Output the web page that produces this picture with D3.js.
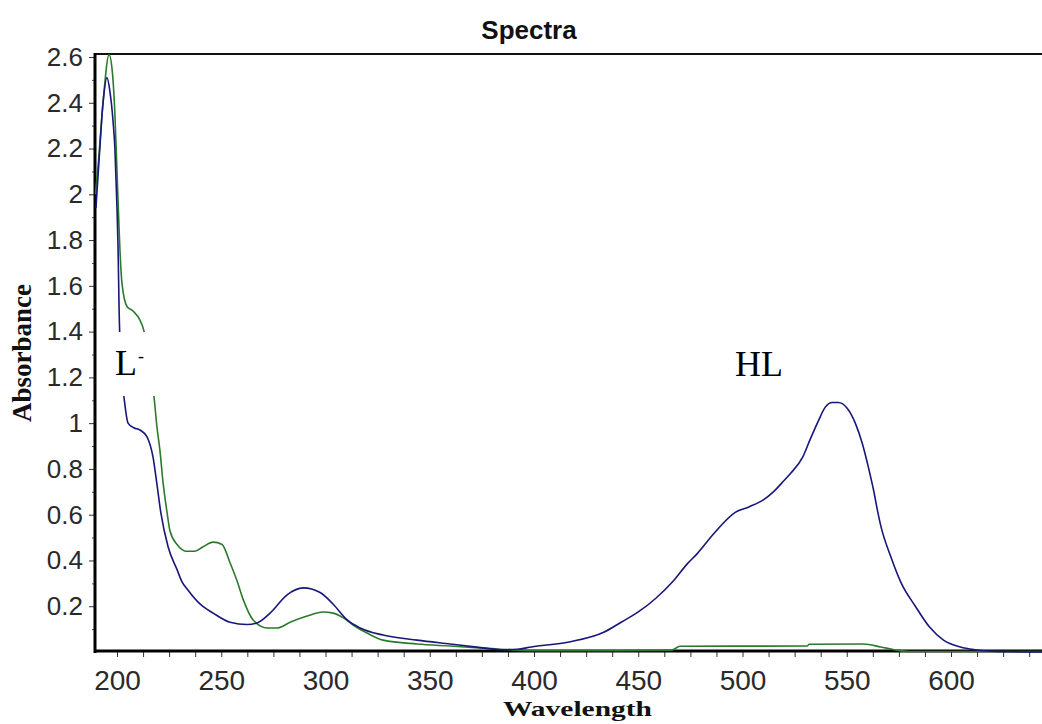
<!DOCTYPE html>
<html>
<head>
<meta charset="utf-8">
<script src="https://cdn.jsdelivr.net/npm/d3@7"></script>
<style>
  body { margin: 0; background: #fff; }
</style>
</head>
<body>
<svg id="chart" width="1042" height="724"></svg>
<script>
// blue trace (HL)
const blueWl = [189.9, 191.4, 193.3, 195.2, 196.6, 198.1, 199, 200, 200.5, 201, 201.9, 203.4, 205.3, 208, 211, 214.4, 217.3, 219.2, 221, 224.5, 228.8, 231, 234.1, 239.8, 246.1, 254.2, 262.4, 267.2, 273.4, 281.6, 289.3, 297.4, 303.6, 310.4, 316.6, 327.6, 344, 359.8, 375.6, 384, 392, 398.7, 416.9, 433.7, 441.8, 450, 458.6, 466.8, 473.5, 478.3, 486.5, 496.5, 503.3, 510, 514.8, 519, 523, 528.8, 532.5, 536.4, 539.7, 543.1, 546, 550.2, 554.1, 557.5, 560.3, 562.8, 564.7, 566.1, 571.4, 576.2, 582.9, 589.6, 596.4, 604.5, 611.3, 619.4, 644];
const blueAbs = [1.94, 2.15, 2.4, 2.51, 2.45, 2.32, 2.2, 1.94, 1.77, 1.5, 1.25, 1.11, 1.0, 0.98, 0.97, 0.94, 0.85, 0.73, 0.61, 0.46, 0.36, 0.31, 0.27, 0.21, 0.17, 0.13, 0.12, 0.127, 0.17, 0.25, 0.28, 0.26, 0.21, 0.14, 0.105, 0.074, 0.052, 0.035, 0.018, 0.01, 0.012, 0.022, 0.044, 0.087, 0.13, 0.175, 0.236, 0.31, 0.385, 0.43, 0.52, 0.61, 0.635, 0.665, 0.70, 0.74, 0.78, 0.85, 0.93, 1.01, 1.07, 1.09, 1.09, 1.065, 1.0, 0.91, 0.81, 0.71, 0.62, 0.56, 0.41, 0.30, 0.20, 0.11, 0.052, 0.022, 0.01, 0.003, 0.0];

// green trace (L-)
const greenWl = [189.6, 190.9, 193.3, 196.2, 197.6, 199, 200, 201, 201.4, 202.4, 204.8, 207.7, 211, 213, 215.4, 217.8, 219.2, 220.6, 222.1, 224, 225.4, 228.8, 233.6, 237.4, 241.3, 246.1, 250.4, 254.2, 257.6, 260.5, 265.3, 272, 276.8, 283, 291.2, 298.8, 303.6, 308.4, 313.2, 319.9, 327.6, 344, 359.8, 375.6, 400, 440, 466, 470, 531, 532, 558, 566.3, 572.8, 580, 644];
const greenAbs = [2.0, 2.12, 2.4, 2.61, 2.55, 2.35, 2.1, 1.85, 1.76, 1.61, 1.51, 1.49, 1.45, 1.40, 1.25, 1.11, 0.98, 0.88, 0.74, 0.61, 0.53, 0.47, 0.44, 0.44, 0.46, 0.48, 0.47, 0.39, 0.31, 0.23, 0.14, 0.105, 0.105, 0.13, 0.157, 0.175, 0.17, 0.15, 0.118, 0.083, 0.052, 0.035, 0.026, 0.017, 0.006, 0.006, 0.008, 0.025, 0.026, 0.034, 0.035, 0.022, 0.01, 0.002, 0.002];

const xTickValues = [200, 250, 300, 350, 400, 450, 500, 550, 600];
const yTickValues = [0.2, 0.4, 0.6, 0.8, 1, 1.2, 1.4, 1.6, 1.8, 2, 2.2, 2.4, 2.6];

const svg = d3.select("#chart");

const plotLeft = 95, plotRight = 1042, plotTop = 54, plotBottom = 652;

const x = d3.scaleLinear().domain([200, 600]).range([117, 951]);
const y = d3.scaleLinear().domain([0, 2.6]).range([652, 57]);

// clip for the plot area
svg.append("clipPath").attr("id", "plotclip")
  .append("rect")
  .attr("x", plotLeft).attr("y", plotTop)
  .attr("width", plotRight - plotLeft).attr("height", plotBottom - plotTop + 2);

// title
svg.append("text")
  .attr("x", 529)
  .attr("y", 39)
  .attr("text-anchor", "middle")
  .attr("font-family", "Liberation Sans, Arial, sans-serif")
  .attr("font-weight", "bold")
  .attr("font-size", "26px")
  .attr("fill", "#111")
  .text("Spectra");

// y axis ticks + labels
const yAxis = d3.axisLeft(y)
  .tickValues(yTickValues)
  .tickSize(6)
  .tickPadding(6)
  .tickFormat(d => String(+d.toFixed(1)));

const yg = svg.append("g")
  .attr("transform", `translate(${plotLeft},0)`)
  .call(yAxis);
yg.select(".domain").remove();
yg.selectAll("text")
  .attr("font-family", "Liberation Sans, Arial, sans-serif")
  .attr("font-size", "26px")
  .attr("fill", "#2a2a2a");
yg.selectAll("line").attr("stroke", "#333");

// small y minor ticks
const yMinor = d3.axisLeft(y)
  .tickValues(yTickValues.map(v => v - 0.1))
  .tickSize(3)
  .tickFormat("");
const ymg = svg.append("g").attr("transform", `translate(${plotLeft},0)`).call(yMinor);
ymg.select(".domain").remove();
ymg.selectAll("line").attr("stroke", "#555");

// x axis ticks every 12.5
const xMinor = d3.axisBottom(x)
  .tickValues(d3.range(200, 644, 12.5))
  .tickSize(6)
  .tickFormat("");
const xmg = svg.append("g").attr("transform", `translate(0,${plotBottom - 1})`).call(xMinor);
xmg.select(".domain").remove();
xmg.selectAll("line").attr("stroke", "#333");

const xAxis = d3.axisBottom(x)
  .tickValues(xTickValues)
  .tickSize(0)
  .tickFormat(d3.format("d"));
const xg = svg.append("g").attr("transform", `translate(0,${plotBottom - 1})`).call(xAxis);
xg.select(".domain").remove();
xg.selectAll("text")
  .attr("y", 39)
  .attr("dy", null)
  .attr("font-family", "Liberation Sans, Arial, sans-serif")
  .attr("font-size", "28px")
  .attr("fill", "#2a2a2a");

// frame lines
svg.append("line")
  .attr("x1", plotLeft).attr("x2", plotRight)
  .attr("y1", plotTop).attr("y2", plotTop)
  .attr("stroke", "#111").attr("stroke-width", 2);
svg.append("line")
  .attr("x1", plotLeft).attr("x2", plotLeft)
  .attr("y1", plotTop - 1).attr("y2", plotBottom + 1)
  .attr("stroke", "#000").attr("stroke-width", 3);
svg.append("line")
  .attr("x1", plotLeft - 1).attr("x2", plotRight)
  .attr("y1", plotBottom - 1).attr("y2", plotBottom - 1)
  .attr("stroke", "#000").attr("stroke-width", 3);

// spectra
const line = d3.line()
  .x(d => x(d[0]))
  .y(d => y(d[1]))
  .curve(d3.curveMonotoneX);

const plot = svg.append("g").attr("clip-path", "url(#plotclip)");

plot.append("path")
  .datum(greenWl.map((w, i) => [w, greenAbs[i]]))
  .attr("d", line)
  .attr("fill", "none")
  .attr("stroke", "#2b7a2b")
  .attr("stroke-width", 1.6);

plot.append("path")
  .datum(blueWl.map((w, i) => [w, blueAbs[i]]))
  .attr("d", line)
  .attr("fill", "none")
  .attr("stroke", "#17177a")
  .attr("stroke-width", 1.6);

// axis titles
svg.append("text")
  .attr("transform", "translate(31,353) rotate(-90)")
  .attr("text-anchor", "middle")
  .attr("font-family", "Liberation Serif, Times New Roman, serif")
  .attr("font-weight", "bold")
  .attr("font-size", "27px")
  .attr("fill", "#111")
  .text("Absorbance");

svg.append("text")
  .attr("x", 503)
  .attr("y", 716)
  .attr("textLength", 149)
  .attr("lengthAdjust", "spacingAndGlyphs")
  .attr("font-family", "Liberation Serif, Times New Roman, serif")
  .attr("font-weight", "bold")
  .attr("font-size", "22px")
  .attr("fill", "#111")
  .text("Wavelength");

// L- label on a white patch
svg.append("rect")
  .attr("x", 97).attr("y", 332)
  .attr("width", 66).attr("height", 64)
  .attr("fill", "#fff");

svg.append("text")
  .attr("x", 115)
  .attr("y", 375)
  .attr("font-family", "Liberation Serif, Times New Roman, serif")
  .attr("font-size", "36px")
  .attr("fill", "#000")
  .text("L");
svg.append("text")
  .attr("x", 138)
  .attr("y", 362)
  .attr("font-family", "Liberation Serif, Times New Roman, serif")
  .attr("font-size", "18px")
  .attr("fill", "#000")
  .text("-");

svg.append("text")
  .attr("x", 735)
  .attr("y", 376)
  .attr("font-family", "Liberation Serif, Times New Roman, serif")
  .attr("font-size", "36px")
  .attr("fill", "#000")
  .text("HL");
</script>
</body>
</html>
